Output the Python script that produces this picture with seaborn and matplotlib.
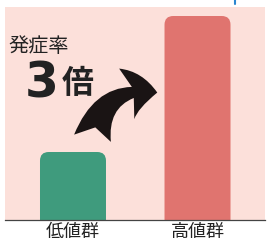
import matplotlib
matplotlib.use("Agg")
import matplotlib.pyplot as plt
import seaborn as sns
import pandas as pd
from matplotlib.patches import FancyBboxPatch, FancyArrowPatch

categories = ["低値群", "高値群"]
values = [1.0, 3.0]
colors = ["#3f9b7d", "#e0746f"]
title_text = "発症率"
ratio_num = "3"
ratio_unit = "倍"

sns.set_theme(style="white")
plt.rcParams['font.family'] = ['Noto Sans CJK JP', 'DejaVu Sans']

W, H = 267, 241
fig = plt.figure(figsize=(W / 100, H / 100), dpi=100)
fig.patch.set_facecolor("white")

def fx(px):
    return px / W

def fy(py):
    return 1 - py / H

# axes covering the pink panel: x 5..265, y 7..220
ax = fig.add_axes([fx(5), fy(220), (265 - 5) / W, (220 - 7) / H])
ax.set_facecolor("#fce0da")

df = pd.DataFrame({"group": categories, "value": values})
sns.barplot(data=df, x="group", y="value", hue="group", palette=colors,
            width=0.53, legend=False, ax=ax, saturation=1)

# replace bars with rounded versions
for p in list(ax.patches):
    x0, w, h = p.get_x(), p.get_width(), p.get_height()
    fc = p.get_facecolor()
    p.remove()
    rb = FancyBboxPatch((x0, -0.5), w, h + 0.5,
                        boxstyle="round,pad=0,rounding_size=0.07",
                        mutation_aspect=124.5 / 68,
                        facecolor=fc, edgecolor="none", clip_on=True)
    ax.add_patch(rb)

ax.set_xlim(-0.546, 1.542)
ax.set_ylim(0, 213 / 68)
ax.set_xlabel("")
ax.set_ylabel("")
ax.set_yticks([])
ax.set_xticks(range(len(categories)))
ax.set_xticklabels(categories, fontsize=13, color="#222222")
ax.tick_params(axis="x", length=0, pad=8.5)
for lbl in ax.get_xticklabels():
    lbl.set_va("center")
for s in ["top", "left", "right"]:
    ax.spines[s].set_visible(False)
ax.spines["bottom"].set_color("#444444")
ax.spines["bottom"].set_linewidth(0.9)

# annotation texts
fig.text(fx(8), fy(46), title_text, fontsize=14.5, color="#222222",
         ha="left", va="center")
fig.text(fx(25), fy(83), ratio_num, fontsize=35, fontweight="bold",
         color="#222222", ha="left", va="center", family="DejaVu Sans")
fig.text(fx(62), fy(84), ratio_unit, fontsize=23, fontweight="bold",
         color="#222222", ha="left", va="center")

# curved arrow
arr = FancyArrowPatch((fx(92), fy(141)), (fx(160), fy(93)),
                      transform=fig.transFigure,
                      connectionstyle="arc3,rad=-0.5",
                      arrowstyle="fancy,head_length=22,head_width=38,tail_width=27",
                      mutation_scale=1, color="#1a1414", lw=0)
fig.add_artist(arr)

# small blue mark at top
fig.add_artist(plt.Line2D([fx(235), fx(235)], [fy(0), fy(4)],
                          transform=fig.transFigure, color="#2a86d0", lw=1.5))

fig.savefig("out.png", dpi=100, facecolor="white")
